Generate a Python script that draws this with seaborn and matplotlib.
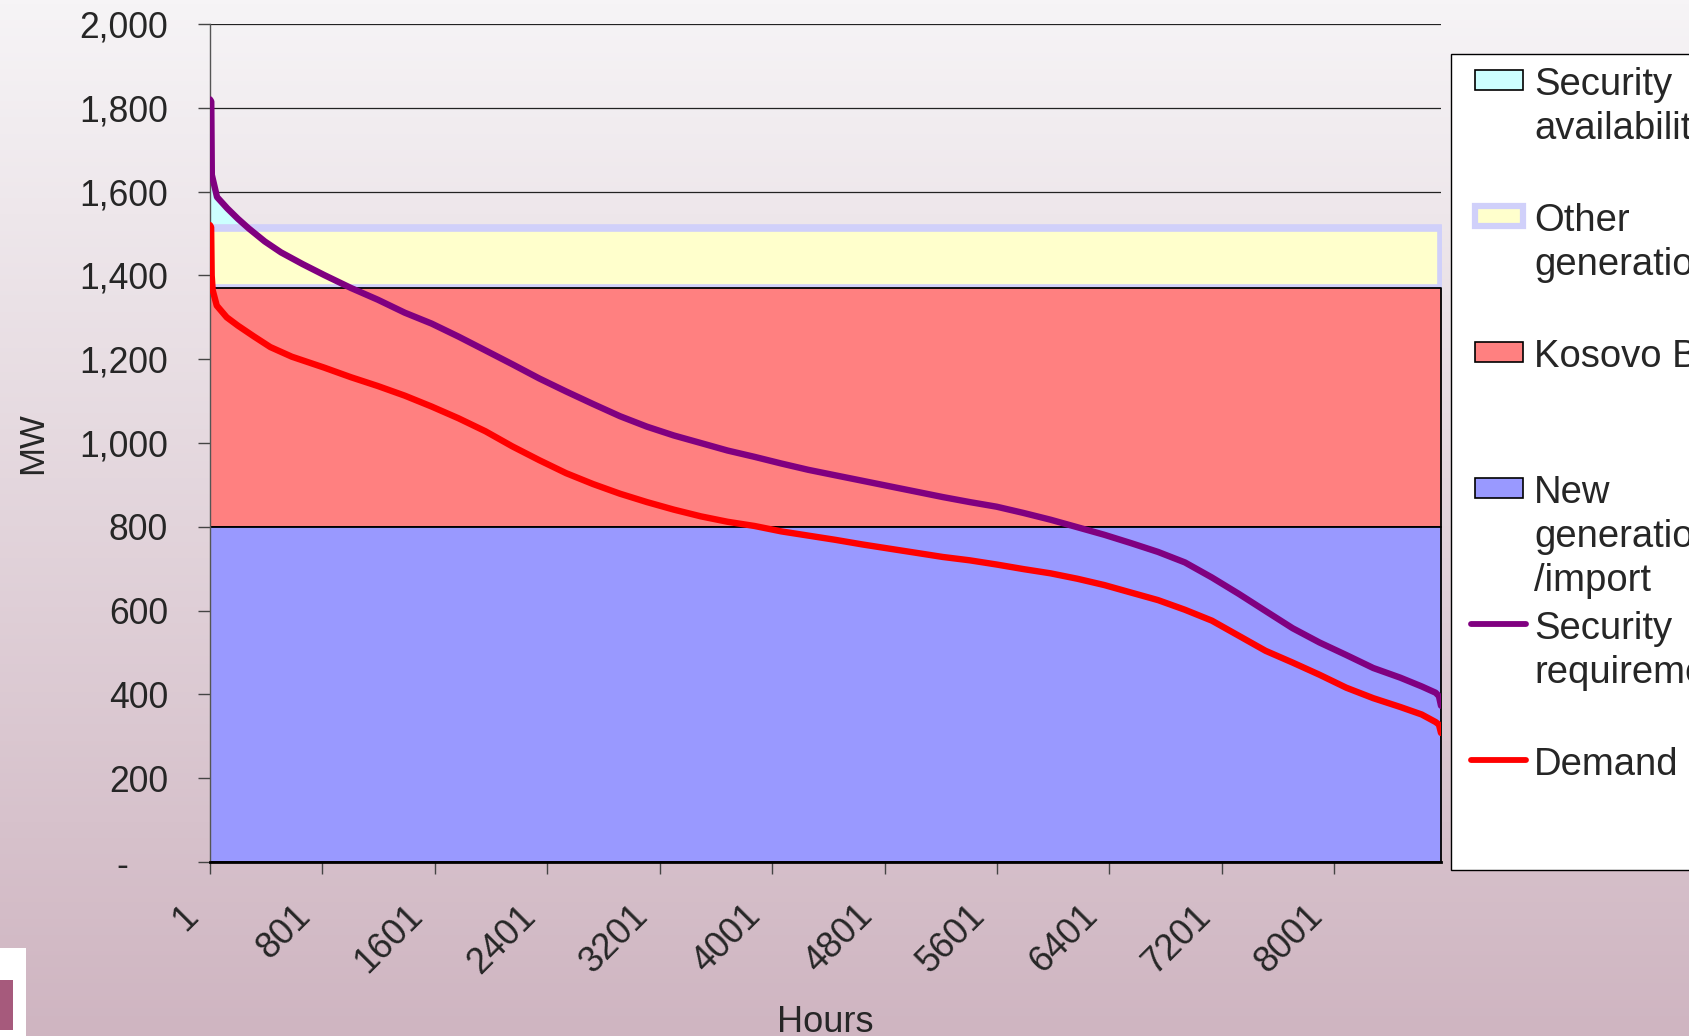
import numpy as np
import matplotlib
matplotlib.use("Agg")
import matplotlib.pyplot as plt
import seaborn as sns
from matplotlib.patches import Rectangle
from matplotlib.lines import Line2D
from matplotlib.colors import LinearSegmentedColormap
from matplotlib.transforms import ScaledTranslation

# security requirement duration curve (MW, hour of year)
req_hours = [1, 10, 14, 51, 124, 200, 277, 391, 506, 660, 813, 1004, 1195, 1387,
             1578, 1769, 1961, 2152, 2344, 2535, 2727, 2918, 3110, 3301, 3493,
             3684, 3875, 4067, 4258, 4449, 4641, 4832, 5024, 5215, 5407, 5598,
             5790, 5981, 6173, 6364, 6555, 6747, 6938, 7130, 7321, 7512, 7704,
             7895, 8086, 8278, 8470, 8623, 8722, 8745, 8760]
req_mw = [1820, 1815, 1640, 1587, 1560, 1535, 1512, 1481, 1455, 1427, 1401, 1370,
          1342, 1311, 1285, 1254, 1221, 1188, 1154, 1123, 1093, 1064, 1039, 1018,
          1000, 982, 967, 951, 936, 923, 910, 897, 884, 871, 859, 848, 833, 817,
          799, 781, 761, 740, 715, 679, 640, 599, 558, 524, 494, 463, 440, 419,
          404, 396, 373]

# demand duration curve
dem_hours = [1, 9, 13, 20, 49, 120, 200, 315, 430, 583, 813, 1004, 1195, 1387,
             1578, 1769, 1961, 2152, 2344, 2535, 2727, 2918, 3110, 3301, 3493,
             3684, 3875, 4067, 4258, 4449, 4641, 4832, 5024, 5215, 5407, 5598,
             5790, 5981, 6173, 6364, 6555, 6747, 6938, 7130, 7321, 7512, 7704,
             7895, 8086, 8278, 8470, 8623, 8722, 8745, 8760]
dem_mw = [1520, 1515, 1400, 1365, 1328, 1300, 1280, 1254, 1229, 1206, 1180, 1157,
          1136, 1113, 1087, 1059, 1028, 992, 959, 928, 902, 879, 859, 841, 825,
          812, 802, 789, 779, 769, 758, 748, 738, 728, 720, 710, 699, 689, 676,
          661, 643, 625, 602, 576, 540, 504, 476, 447, 416, 391, 370, 352, 334,
          328, 308]

# stacked capacity blocks, flat over the year
year_hours = [1, 8760]
new_gen = [800, 800]
kosovo_b = [570, 570]
other_gen = [143, 143]

# security availability sliver on top of the stack
avail_hours = [1, 51, 124, 200, 277]
avail_mw = [110, 74, 47, 22, 0]

x_ticks = list(range(1, 8761, 800))
y_ticks = list(range(0, 2001, 200))
y_labels = ["-    " if v == 0 else f"{v:,}" for v in y_ticks]

sns.set_style("white")
plt.rcParams['font.family'] = ['Liberation Sans', 'DejaVu Sans']

fig = plt.figure(figsize=(16.89, 10.36), dpi=100)

# slide background gradient
bg = fig.add_axes([0, 0, 1, 1], zorder=-10)
cmap = LinearSegmentedColormap.from_list('bg', ['#f6f4f6', '#cfb5c1'])
bg.imshow(np.linspace(0, 1, 256)[:, None], aspect='auto', cmap=cmap,
          extent=[0, 1, 0, 1], origin='upper')
bg.axis('off')

ax = fig.add_axes([0.12433, 0.16795, 0.72884, 0.80888])
ax.patch.set_alpha(0)

top1 = np.array(new_gen)
top2 = top1 + np.array(kosovo_b)
top3 = top2 + np.array(other_gen)
av_base = top3[0]

ax.fill_between(avail_hours, av_base, av_base + np.array(avail_mw),
                facecolor='#ccffff', lw=0, zorder=1.4)
ax.fill_between(year_hours, top2, top3, facecolor='#ffffcc', edgecolor='#d0d0fa',
                lw=5.5, zorder=1.5)
ax.fill_between(year_hours, top1, top2, facecolor='#ff8080', edgecolor='black',
                lw=1.3, zorder=2)
ax.fill_between(year_hours, 0, top1, facecolor='#9999ff', edgecolor='black',
                lw=1.3, zorder=2)

sns.lineplot(x=req_hours, y=req_mw, ax=ax, color='#800080', linewidth=4.6,
             estimator=None, sort=False, legend=False, zorder=5)
sns.lineplot(x=dem_hours, y=dem_mw, ax=ax, color='#ff0000', linewidth=4.6,
             estimator=None, sort=False, legend=False, zorder=5)

ax.set_xlim(1, 8760)
ax.set_ylim(0, 2000)
ax.set_yticks(y_ticks)
ax.set_yticklabels(y_labels)
ax.set_xticks(x_ticks)
ax.set_xticklabels([str(t) for t in x_ticks], rotation=45, ha='right',
                   va='center', rotation_mode='anchor')
ax.grid(axis='y', color='#222222', lw=0.9)
ax.set_axisbelow(True)

for s in ['top', 'right']:
    ax.spines[s].set_visible(False)
ax.spines['left'].set_color('#555555')
ax.spines['left'].set_linewidth(1.0)
ax.spines['bottom'].set_color('black')
ax.spines['bottom'].set_linewidth(2.0)
ax.spines['bottom'].set_zorder(6)

ax.tick_params(axis='both', direction='out', length=8.6, width=1, color='#444444',
               bottom=True, left=True)
ax.tick_params(axis='y', labelsize=25.6, pad=21.6)
ax.tick_params(axis='x', labelsize=26, pad=0)

ax.set_ylabel('MW', fontsize=25)
ax.yaxis.set_label_coords(-0.131, 0.5)
ax.set_xlabel('Hours', fontsize=26)
ax.xaxis.set_label_coords(0.5, -0.1706)

# push the slanted hour labels down and left like the original
shift = ScaledTranslation(-0.17, -0.37, fig.dpi_scale_trans)
for lbl in ax.get_xticklabels():
    lbl.set_transform(lbl.get_transform() + shift)

# legend box (runs off the right edge of the slide)
W, H = 1689.0, 1036.0
def fx(px):
    return px / W
def fy(py):
    return 1 - py / H

fig.patches.append(Rectangle((fx(1451), fy(870)), 0.3, fy(54) - fy(870),
                             transform=fig.transFigure, facecolor='white',
                             edgecolor='black', lw=1.0, zorder=3))

entries = [
    ("Security\navailability", 'patch', '#ccffff', 'black'),
    ("Other\ngeneration", 'patch', '#ffffcc', '#d0d0fa'),
    ("Kosovo B", 'patch', '#ff8080', 'black'),
    ("New\ngeneration\n/import", 'patch', '#9999ff', 'black'),
    ("Security\nrequirement", 'line', '#800080', None),
    ("Demand", 'line', '#ff0000', None),
]
for i, (label, kind, col, edge) in enumerate(entries):
    cap_top = 67 + 136 * i
    mid = cap_top + 13
    fig.text(fx(1534), fy(cap_top), label, fontsize=27.5, ha='left', va='top',
             linespacing=1.28, zorder=4)
    if kind == 'patch':
        lw = 4.5 if edge == '#d0d0fa' else 1.2
        fig.patches.append(Rectangle((fx(1475), fy(mid + 10)), fx(48), 20 / H,
                                     transform=fig.transFigure, facecolor=col,
                                     edgecolor=edge, lw=lw, zorder=4))
    else:
        fig.lines.append(Line2D([fx(1471), fx(1526)], [fy(mid), fy(mid)],
                                transform=fig.transFigure, color=col, lw=4.2,
                                zorder=4))

# corner of the slide logo
fig.patches.append(Rectangle((0, 0), fx(26), 88 / H, transform=fig.transFigure,
                             facecolor='white', lw=0, zorder=3))
fig.patches.append(Rectangle((0, 6 / H), fx(13), 50 / H, transform=fig.transFigure,
                             facecolor='#a65a7c', lw=0, zorder=4))

fig.savefig('out.png', dpi=100)
